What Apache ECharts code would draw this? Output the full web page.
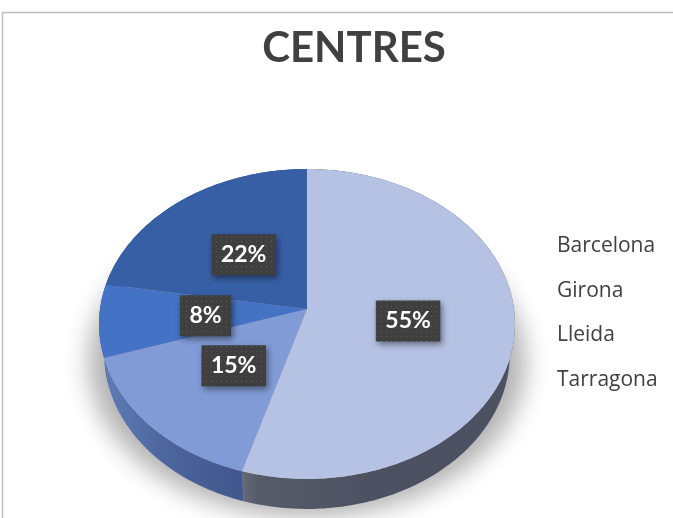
<!DOCTYPE html>
<html><head><meta charset="utf-8">
<style>html,body{margin:0;padding:0;background:#fff}#c{width:673px;height:518px}</style>
<script src="https://cdn.jsdelivr.net/npm/echarts@6/dist/echarts.min.js"></script>
</head><body><div id="c"></div>
<script>
var categories = ['Barcelona', 'Girona', 'Lleida', 'Tarragona'];
var values = [54.6, 15.4, 7.6, 22.4];
var titleText = 'CENTRES';
var topColors = ['#b5c2e3', '#819bd6', '#4472c4', '#375fa6'];

var CX = 307, CY = 309, A = 207, B = 153.5, P = 0.0967, DEPTH = 30, SHRINK = 0.975;
var total = values.reduce(function (a, b) { return a + b; }, 0);
function project(fraction, r) {
  var t = fraction * 2 * Math.PI, u = r * Math.sin(t), v = r * Math.cos(t), d = 1 + P * v;
  return [CX + A * u / d, CY - B * v / d];
}
function lower(p) { return [CX + (p[0] - CX) * SHRINK, p[1] + DEPTH]; }
function arc(f0, f1) {
  var pts = [], n = Math.max(2, Math.ceil((f1 - f0) * 360));
  for (var i = 0; i <= n; i++) pts.push(project(f0 + (f1 - f0) * i / n, 1));
  return pts;
}
function grad(stops) {
  return { type: 'linear', x: 0, y: 0, x2: 1, y2: 0,
    colorStops: stops.map(function (s) { return { offset: s[0], color: s[1] }; }) };
}
var sideFills = [
  grad([[0, '#666a76'], [0.06, '#565b6a'], [0.5, '#4b5160'], [1, '#4c5262']]),
  grad([[0, '#5f7cb8'], [0.4, '#4e679f'], [1, '#40568c']]),
  '#3a5a9c', '#2f4d86'
];
var dotCanvas = document.createElement('canvas');
dotCanvas.width = 5; dotCanvas.height = 5;
var dc = dotCanvas.getContext('2d');
dc.fillStyle = '#3f3f3f'; dc.fillRect(0, 0, 5, 5);
dc.fillStyle = '#5c5c5c'; dc.fillRect(1, 1, 1, 1);
var LABEL_FONT = 'bold 23px Lato';
var measure = document.createElement('canvas').getContext('2d');
measure.font = LABEL_FONT;

var start = [], acc = 0;
values.forEach(function (v) { start.push(acc / total); acc += v; });

var OFF = 2000;
var series = [{
  type: 'custom', name: 'shadow', coordinateSystem: 'none', silent: true, data: [[0]], z: 1,
  renderItem: function () {
    var pts = arc(0, 1).map(function (p) { return [CX + (p[0] - CX) * 1.05 - OFF, p[1] + DEPTH + 8]; });
    return { type: 'polygon', shape: { points: pts },
      style: { fill: '#000', shadowColor: 'rgba(0,0,0,0.3)', shadowBlur: 24, shadowOffsetX: OFF, shadowOffsetY: 0 } };
  }
}];
categories.forEach(function (name, i) {
  series.push({
    type: 'custom', name: name, coordinateSystem: 'none', silent: true, z: 2,
    itemStyle: { color: topColors[i] },
    data: [[values[i]]],
    renderItem: function (params, api) {
      var f0 = start[i], f1 = f0 + api.value(0) / total, top = arc(f0, f1);
      var side = top.concat(top.map(lower).reverse());
      var mid = project((f0 + f1) / 2, 0.49);
      var text = Math.round(api.value(0) / total * 100) + '%';
      var w = measure.measureText(text).width + 19, h = 41;
      var my = mid[1] + 1;
      return { type: 'group', children: [
        { type: 'polygon', z2: 1, shape: { points: side }, style: { fill: sideFills[i] } },
        { type: 'polygon', z2: 2, shape: { points: [[CX, CY]].concat(top) }, style: { fill: topColors[i] } },
        { type: 'rect', z2: 5, shape: { x: mid[0] - w / 2, y: my - h / 2, width: w, height: h },
          style: { fill: { image: dotCanvas, repeat: 'repeat' }, shadowColor: 'rgba(0,0,0,0.45)', shadowBlur: 6, shadowOffsetX: 2, shadowOffsetY: 3 } },
        { type: 'text', z2: 6, x: mid[0], y: my, style: { text: text, fill: '#fff', align: 'center', verticalAlign: 'middle',
          font: LABEL_FONT } }
      ] };
    }
  });
});

var chart = echarts.init(document.getElementById('c'), null, { renderer: 'canvas' });
chart.setOption({
  animation: false,
  backgroundColor: '#fff',
  title: { text: titleText, left: 349, textAlign: 'center', top: 22,
    textStyle: { fontFamily: 'Lato', fontWeight: 'bold', fontSize: 42, color: '#404040' } },
  legend: { data: categories, orient: 'vertical', left: 547, top: 229, itemWidth: 0, itemHeight: 0, itemGap: 20.6,
    selectedMode: false, icon: 'rect', itemStyle: { opacity: 0 },
    textStyle: { fontFamily: 'Open Sans', fontSize: 21, color: '#404040', lineHeight: 24 } },
  graphic: [{ type: 'rect', silent: true, z: 0, shape: { x: 2.5, y: 12.5, width: 720, height: 600 },
    style: { fill: 'none', stroke: '#bfbfbf', lineWidth: 1.5 } }],
  series: series
});
</script></body></html>
